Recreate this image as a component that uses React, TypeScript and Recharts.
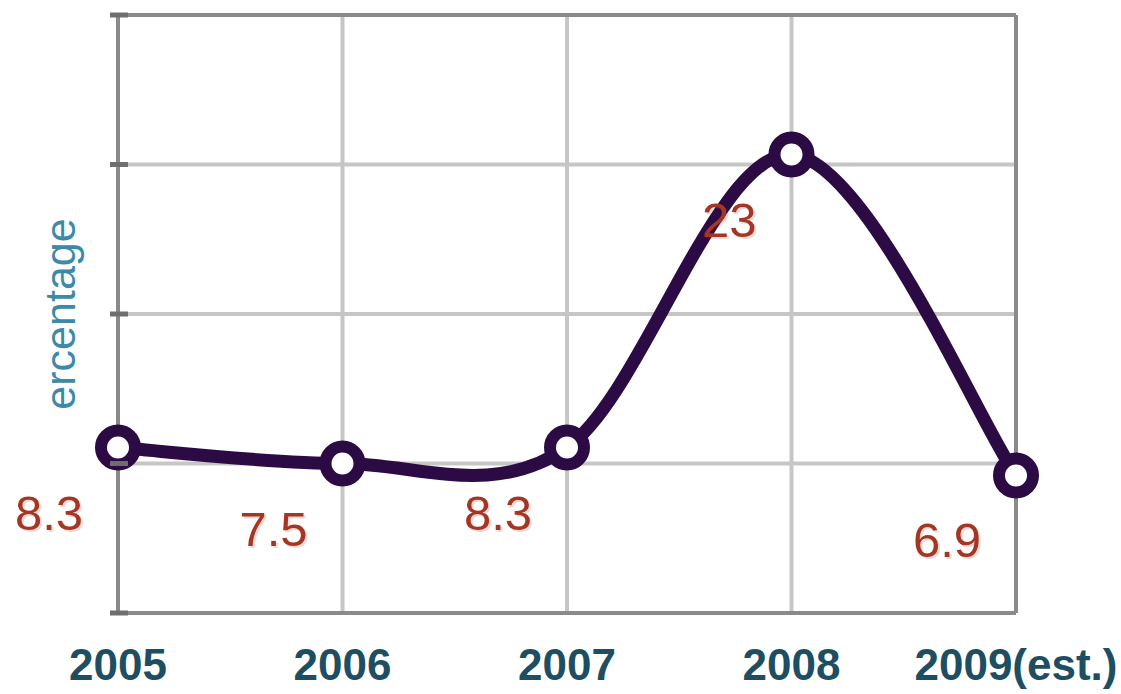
import { LineChart, Line, XAxis, YAxis, CartesianGrid, ReferenceLine } from 'recharts';

const years = ['2005', '2006', '2007', '2008', '2009(est.)'];
const percentages = [8.3, 7.5, 8.3, 23, 6.9];
const yTicks = [0, 7.5, 15, 22.5, 30];

const data = years.map((year, i) => ({ year, value: percentages[i] }));

const LINE_COLOR = '#2c0b45';
const AXIS_COLOR = '#8a8a8a';
const FONT = 'Liberation Sans, Arial, sans-serif';

// uniform Catmull-Rom curve, used as the line's curve factory
const catmullRom = (context: any) => {
  let pts: [number, number][] = [];
  return {
    areaStart() {},
    areaEnd() {},
    lineStart() {
      pts = [];
    },
    point(x: number, y: number) {
      pts.push([+x, +y]);
    },
    lineEnd() {
      if (!pts.length) return;
      context.moveTo(pts[0][0], pts[0][1]);
      for (let i = 0; i < pts.length - 1; i++) {
        const p0 = pts[Math.max(i - 1, 0)];
        const p1 = pts[i];
        const p2 = pts[i + 1];
        const p3 = pts[Math.min(i + 2, pts.length - 1)];
        context.bezierCurveTo(
          p1[0] + (p2[0] - p0[0]) / 6,
          p1[1] + (p2[1] - p0[1]) / 6,
          p2[0] - (p3[0] - p1[0]) / 6,
          p2[1] - (p3[1] - p1[1]) / 6,
          p2[0],
          p2[1]
        );
      }
    },
  };
};

const YearTick = ({ x, y, payload }: any) => (
  <text
    x={x}
    y={y + 67}
    textAnchor="middle"
    fill="#1e4e62"
    fontSize={44}
    fontWeight="bold"
    fontFamily={FONT}
  >
    {payload.value}
  </text>
);

const LeftTick = ({ x, y }: any) => (
  <line x1={x - 8} x2={x + 10} y1={y} y2={y} stroke="#6e6e6e" strokeWidth={5} />
);

const ValueLabel = ({ x, y, value }: any) => (
  <g>
    <text x={x - 33} y={y + 84} textAnchor="end" fill="#a53624" opacity={0.18} fontSize={49} fontFamily={FONT}>
      {value}
    </text>
    <text x={x - 35} y={y + 82} textAnchor="end" fill="#a53624" fontSize={49} fontFamily={FONT}>
      {value}
    </text>
  </g>
);

export default function App() {
  return (
    <div style={{ position: 'absolute', left: 0, top: 0, background: '#fff' }}>
      <LineChart
        width={1121}
        height={694}
        data={data}
        margin={{ top: 15, right: 105, bottom: 51, left: 98 }}
      >
        <CartesianGrid stroke="#c6c6c6" strokeWidth={4} />
        <XAxis
          dataKey="year"
          height={30}
          tick={<YearTick />}
          tickLine={false}
          tickSize={0}
          tickMargin={0}
          axisLine={{ stroke: AXIS_COLOR, strokeWidth: 4 }}
          interval={0}
        />
        <YAxis
          domain={[0, 30]}
          ticks={yTicks}
          width={20}
          tick={<LeftTick />}
          tickLine={false}
          tickSize={0}
          tickMargin={0}
          axisLine={{ stroke: AXIS_COLOR, strokeWidth: 4 }}
        />
        <ReferenceLine y={30} stroke={AXIS_COLOR} strokeWidth={4} />
        <ReferenceLine x="2009(est.)" stroke={AXIS_COLOR} strokeWidth={4} />
        <Line
          type={catmullRom as any}
          dataKey="value"
          stroke={LINE_COLOR}
          strokeWidth={13}
          dot={{ r: 17, fill: '#fff', stroke: LINE_COLOR, strokeWidth: 12 }}
          activeDot={false}
          label={<ValueLabel />}
          isAnimationActive={false}
        />
      </LineChart>
      <div
        style={{
          position: 'absolute',
          left: 60,
          top: 314,
          transform: 'translate(-50%, -50%) rotate(-90deg)',
          color: '#3d8aa8',
          fontSize: 43,
          fontFamily: FONT,
          whiteSpace: 'nowrap',
          lineHeight: 1,
        }}
      >
        ercentage
      </div>
    </div>
  );
}
